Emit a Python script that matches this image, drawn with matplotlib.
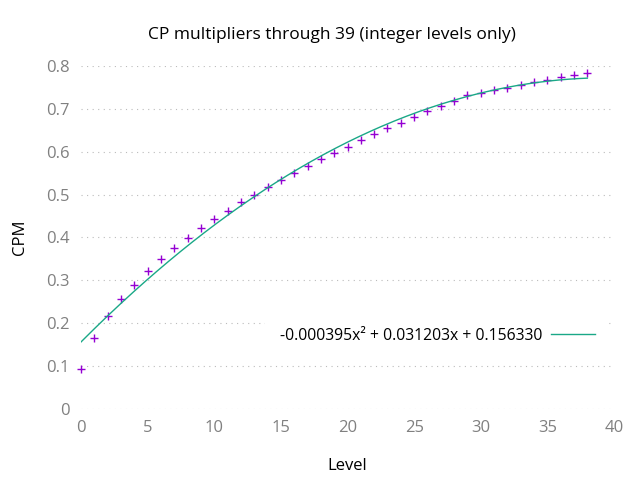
import numpy as np
import matplotlib.pyplot as plt

plt.rcParams['font.family'] = ['Open Sans', 'DejaVu Sans']

# Data: CP multiplier for levels 1..39, plotted at index 0..38
levels = list(range(39))
cpm = [
    0.094, 0.16639787, 0.21573247, 0.25572005, 0.29024988, 0.3210876,
    0.34921268, 0.37523559, 0.39956728, 0.42250001, 0.44310755, 0.46279839,
    0.48168495, 0.49985844, 0.51739395, 0.53435433, 0.55079269, 0.56675452,
    0.58227891, 0.59740001, 0.61215729, 0.62656713, 0.64065295, 0.65443563,
    0.667934, 0.68116492, 0.69414365, 0.70688421, 0.71939909, 0.7317,
    0.73776948, 0.74378943, 0.74976104, 0.75568551, 0.76156384, 0.76739717,
    0.7731865, 0.77893275, 0.78463697
]
fit_coeffs = [-0.000395, 0.031203, 0.156330]

x_plot = np.linspace(0, 38, 300)
y_fit = np.polyval(fit_coeffs, x_plot)

fig = plt.figure(figsize=(6.4, 4.8), dpi=100)
ax = fig.add_axes([0.1266, 0.148, 0.8328, 0.7145])

ax.plot(levels, cpm, linestyle='none', marker='+', markersize=5.5, mew=1.0,
        color='#9400d3', clip_on=False, zorder=3)
label = '-0.000395x² + 0.031203x + 0.156330'
ax.plot(x_plot, y_fit, color='#1aa887', lw=1.0, label=label, zorder=4)

ax.set_xlim(0, 40)
ax.set_ylim(0, 0.8)
ax.set_xticks(range(0, 41, 5))
ax.set_yticks([0, 0.1, 0.2, 0.3, 0.4, 0.5, 0.6, 0.7, 0.8])
ax.set_yticklabels(['0', '0.1', '0.2', '0.3', '0.4', '0.5', '0.6', '0.7', '0.8'])
ax.tick_params(length=0, labelsize=12, labelcolor='#808080', pad=8)
for s in ax.spines.values():
    s.set_visible(False)
ax.yaxis.grid(True, linestyle=(0, (1, 4)), color='#bbbbbb', lw=0.8)
ax.set_axisbelow(True)

fig.text(0.519, 0.928, 'CP multipliers through 39 (integer levels only)',
         fontsize=12.5, ha='center', va='center')
ax.set_xlabel('Level', fontsize=12, labelpad=16)
ax.set_ylabel('CPM', fontsize=12, labelpad=13)

leg = ax.legend(loc='center right', bbox_to_anchor=(1.006, 0.213), markerfirst=False,
                frameon=True, fontsize=11.3, handlelength=2.8, borderpad=0.9,
                handletextpad=0.6)
leg.get_frame().set_facecolor('white')
leg.get_frame().set_edgecolor('none')
leg.get_frame().set_alpha(1.0)

fig.savefig('out.png', dpi=100)
